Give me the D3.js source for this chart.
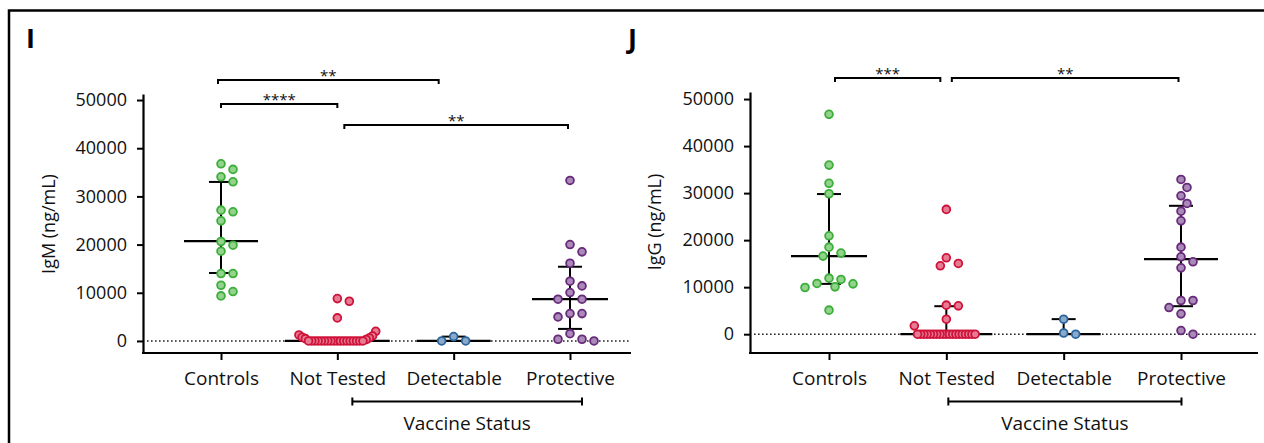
<!DOCTYPE html>
<html>
<head>
<meta charset="utf-8">
<script src="https://cdn.jsdelivr.net/npm/d3@7"></script>
<style>
  body { margin: 0; background: #fff; }
  svg { display: block; }
  text { font-family: "Open Sans", sans-serif; fill: #111; }
</style>
</head>
<body>
<svg width="1264" height="443"></svg>
<script>
const svg = d3.select("svg");

// categories and ticks
const groups = ["Controls", "Not Tested", "Detectable", "Protective"];
const yTicks = [0, 10000, 20000, 30000, 40000, 50000];

// IgM (ng/mL)
const igmControls = [36770, 35600, 34070, 33030, 27150, 26800, 24930, 20640, 19870, 18630, 13990, 13990, 11560, 10250, 9350];
const igmNotTested = [8790, 8240, 4780, 2000, 1250, 1040, 770, 620, 480, 300,
  0, 0, 0, 0, 0, 0, 0, 0, 0, 0, 0, 0, 0, 0, 0, 0, 0, 0];
const igmDetectable = [900, 0, 0];
const igmProtective = [33310, 20010, 18490, 16140, 12400, 11430, 10040, 8660, 8660, 5680, 5680, 4990, 1520, 350, 350, 0];
const igmMedian = [20700, 0, 0, 8700];
const igmLow = [14100, 0, 0, 2500];
const igmHigh = [33000, 0, 900, 15400];

// IgG (ng/mL)
const iggControls = [46750, 35960, 32070, 29860, 20920, 18510, 17240, 16600, 11920, 11640, 10790, 10700, 10070, 9930, 5110];
const iggNotTested = [26540, 16240, 15040, 14540, 6170, 6030, 3190, 1770,
  0, 0, 0, 0, 0, 0, 0, 0, 0, 0, 0, 0, 0, 0, 0, 0, 0, 0, 0];
const iggDetectable = [3190, 250, 0];
const iggProtective = [32900, 31200, 29430, 27800, 26160, 24110, 18510, 16450, 15390, 14110, 7160, 7160, 5670, 4320, 780, 0];
const iggMedian = [16600, 0, 0, 15950];
const iggLow = [10700, 0, 0, 5950];
const iggHigh = [29800, 5950, 3200, 27300];

// significance comparisons
const igmSig = [["Controls", "Detectable", "**"], ["Controls", "Not Tested", "****"], ["Not Tested", "Protective", "**"]];
const iggSig = [["Controls", "Not Tested", "***"], ["Not Tested", "Protective", "**"]];

const colors = [
  { stroke: "#3cae3a", fill: "#93d38c" },
  { stroke: "#cf1239", fill: "#e67b93" },
  { stroke: "#2a65a0", fill: "#8ba9c8" },
  { stroke: "#682a7a", fill: "#a98ab9" }
];

// outer frame
svg.append("rect")
  .attr("x", 9).attr("y", 10.5)
  .attr("width", 1300).attr("height", 500)
  .attr("fill", "none").attr("stroke", "#000").attr("stroke-width", 2.5);

// place dots: a crowded bottom row gets squeezed, the rest is a simple beeswarm
function swarm(values, y, cx) {
  const pts = values.map(v => ({ v: v, y: y(v), x: cx }));
  const base = d3.max(pts, p => p.y);
  let row = pts.filter(p => base - p.y <= 10);
  const placed = [];
  if (row.length >= 6) {
    row.sort((a, b) => a.v - b.v);
    row.forEach((p, i) => {
      const k = Math.ceil(i / 2) * (i % 2 ? -1 : 1);
      p.x = cx + k * 3.2;
      placed.push(p);
    });
  } else {
    row = [];
  }
  const rest = pts.filter(p => !row.includes(p)).sort((a, b) => b.v - a.v);
  rest.forEach(p => {
    for (let k = 0; k < 40; k++) {
      const off = Math.ceil(k / 2) * (k % 2 ? 1 : -1) * 6;
      if (placed.every(q => Math.hypot(q.x - (cx + off), q.y - p.y) >= 9.5)) {
        p.x = cx + off;
        break;
      }
    }
    placed.push(p);
  });
  return pts;
}

function drawPanel(cfg) {
  const g = svg.append("g");

  const y = d3.scaleLinear().domain(cfg.yDomain).range([cfg.base, cfg.top]);
  const x = d3.scalePoint().domain(groups).range([cfg.first, cfg.last]);

  // panel letter
  g.append("text")
    .attr("x", cfg.letterX).attr("y", 48)
    .attr("font-size", 27).attr("font-weight", 700)
    .style("fill", "#000")
    .text(cfg.letter);

  // zero reference line
  g.append("line")
    .attr("x1", cfg.left + 4).attr("x2", cfg.right)
    .attr("y1", y(0)).attr("y2", y(0))
    .attr("stroke", "#222").attr("stroke-width", 1.6)
    .attr("stroke-dasharray", "1.6,2.4");

  // y axis
  const yAxis = g.append("g")
    .attr("transform", `translate(${cfg.left},0)`)
    .call(d3.axisLeft(y).tickValues(yTicks).tickSize(6).tickPadding(10).tickSizeOuter(0).tickFormat(d3.format("d")));
  yAxis.select(".domain").attr("stroke-width", 2.2);
  yAxis.selectAll(".tick line").attr("stroke-width", 2);
  yAxis.selectAll(".tick text").attr("font-size", 18).attr("font-family", "Open Sans").style("fill", "#111");

  // x axis
  const xAxis = g.append("g")
    .attr("transform", `translate(0,${cfg.base})`)
    .call(d3.axisBottom(x).tickSize(7).tickPadding(12));
  xAxis.select(".domain").remove();
  xAxis.selectAll(".tick line").attr("stroke-width", 2);
  xAxis.selectAll(".tick text").attr("font-size", 19).attr("font-family", "Open Sans").style("fill", "#111");
  g.append("line")
    .attr("x1", cfg.left - 1).attr("x2", cfg.right)
    .attr("y1", cfg.base).attr("y2", cfg.base)
    .attr("stroke", "#000").attr("stroke-width", 2.2);

  // y title
  g.append("text")
    .attr("transform", `translate(${cfg.titleX},${cfg.titleY}) rotate(-90)`)
    .attr("text-anchor", "middle").attr("dominant-baseline", "central")
    .attr("font-size", 18)
    .text(cfg.title);

  // dots + median/IQR
  cfg.series.forEach((vals, i) => {
    const cx = x(groups[i]);
    const pts = swarm(vals, y, cx);
    const spread = d3.max(pts, p => Math.abs(p.x - cx));
    const hw = Math.max(37, spread + 14);

    g.append("line")
      .attr("x1", cx).attr("x2", cx)
      .attr("y1", y(cfg.high[i])).attr("y2", y(cfg.low[i]))
      .attr("stroke", "#000").attr("stroke-width", 2);
    [cfg.high[i], cfg.low[i]].forEach(v => {
      if (v === cfg.median[i]) return;
      g.append("line")
        .attr("x1", cx - 12).attr("x2", cx + 12)
        .attr("y1", y(v)).attr("y2", y(v))
        .attr("stroke", "#000").attr("stroke-width", 2);
    });
    g.append("line")
      .attr("x1", cx - hw).attr("x2", cx + hw)
      .attr("y1", y(cfg.median[i])).attr("y2", y(cfg.median[i]))
      .attr("stroke", "#000").attr("stroke-width", 2.2);

    g.selectAll(null)
      .data(pts)
      .join("circle")
      .attr("cx", d => d.x)
      .attr("cy", d => d.y)
      .attr("r", 3.9)
      .attr("fill", colors[i].fill)
      .attr("stroke", colors[i].stroke)
      .attr("stroke-width", 1.8);
  });

  // significance brackets
  cfg.sig.forEach((s, i) => {
    const [dx1, dx2, by] = cfg.sigLayout[i];
    const x1 = x(s[0]) + dx1, x2 = x(s[1]) + dx2;
    g.append("path")
      .attr("d", `M${x1},${by + 4}V${by}H${x2}V${by + 4}`)
      .attr("fill", "none").attr("stroke", "#000").attr("stroke-width", 2);
    g.append("text")
      .attr("x", (x1 + x2) / 2).attr("y", by + 1)
      .attr("text-anchor", "middle")
      .attr("font-size", 15)
      .text(s[2]);
  });

  // vaccine status bracket
  const v1 = x("Not Tested") + cfg.vacDx[0], v2 = x("Protective") + cfg.vacDx[1];
  g.append("path")
    .attr("d", `M${v1},397.5V405.5M${v1},401.5H${v2}M${v2},397.5V405.5`)
    .attr("fill", "none").attr("stroke", "#000").attr("stroke-width", 2);
  g.append("text")
    .attr("x", (v1 + v2) / 2).attr("y", 430)
    .attr("text-anchor", "middle")
    .attr("font-size", 19)
    .text("Vaccine Status");
}

drawPanel({
  letter: "I", letterX: 26,
  left: 143, right: 631, top: 94, base: 353, first: 221, last: 570,
  yDomain: [-2500, 51250],
  title: "IgM (ng/mL)", titleX: 48, titleY: 224,
  series: [igmControls, igmNotTested, igmDetectable, igmProtective],
  median: igmMedian, low: igmLow, high: igmHigh,
  sig: igmSig,
  sigLayout: [[-3, -15, 80], [0, 0, 104], [7, -2, 125]],
  vacDx: [15, 12]
});

drawPanel({
  letter: "J", letterX: 628,
  left: 750, right: 1258, top: 92, base: 353, first: 829, last: 1181,
  yDomain: [-4000, 51500],
  title: "IgG (ng/mL)", titleX: 654, titleY: 222,
  series: [iggControls, iggNotTested, iggDetectable, iggProtective],
  median: iggMedian, low: iggLow, high: iggHigh,
  sig: iggSig,
  sigLayout: [[6, -6, 78], [5.5, -2.5, 78]],
  vacDx: [2, 0.5]
});
</script>
</body>
</html>
